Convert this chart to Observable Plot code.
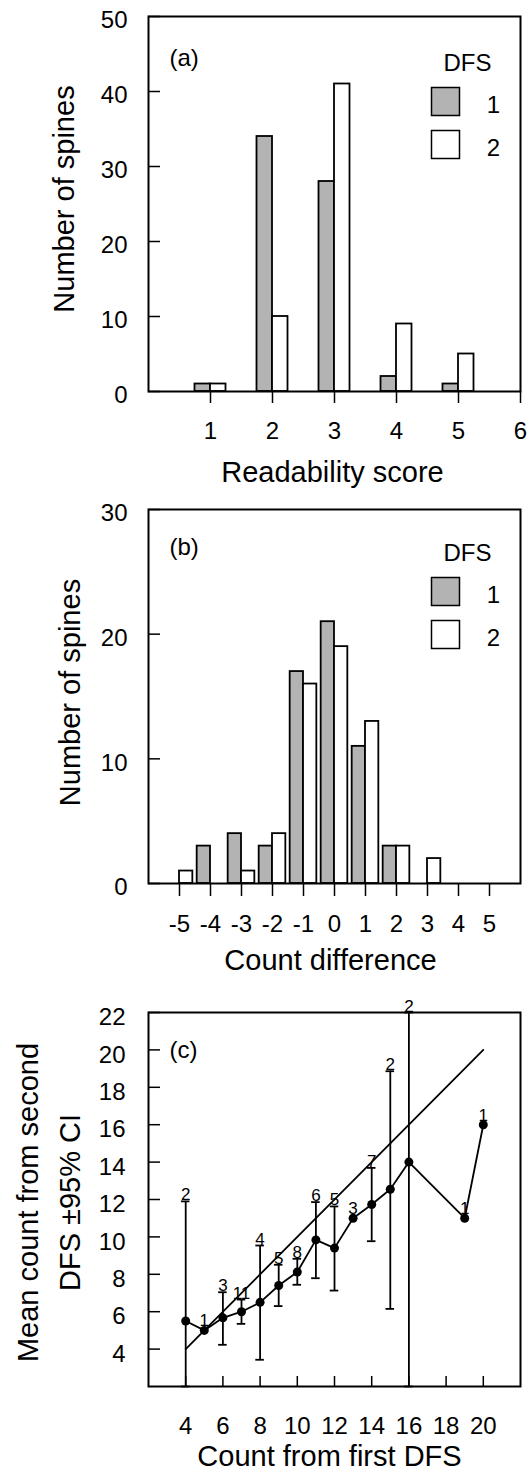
<!DOCTYPE html>
<html>
<head>
<meta charset="utf-8">
<script src="https://cdn.jsdelivr.net/npm/d3@7"></script>
<script src="https://cdn.jsdelivr.net/npm/@observablehq/plot@0.6"></script>
<style>
  html, body { margin: 0; padding: 0; background: white; }
  #chart { width: 532px; }
  #chart svg { display: block; }
</style>
</head>
<body>
<div id="chart"></div>
<script>
// ---------- data ----------
// Panel (a): readability score
const scoreCats = [1, 2, 3, 4, 5];
const scoreDFS1 = [1, 34, 28, 2, 1];
const scoreDFS2 = [1, 10, 41, 9, 5];
const scoreXTicks = [1, 2, 3, 4, 5, 6];
const scoreYTicks = [0, 10, 20, 30, 40, 50];

// Panel (b): count difference
const diffCats = [-5, -4, -3, -2, -1, 0, 1, 2, 3, 4, 5];
const diffDFS1 = [0, 3, 4, 3, 17, 21, 11, 3, 0, 0, 0];
const diffDFS2 = [1, 0, 1, 4, 16, 19, 13, 3, 2, 0, 0];
const diffXTicks = [-5, -4, -3, -2, -1, 0, 1, 2, 3, 4, 5];
const diffYTicks = [0, 10, 20, 30];

// Panel (c): count from first DFS vs mean count from second DFS
const firstCount = [4, 5, 6, 7, 8, 9, 10, 11, 12, 13, 14, 15, 16, 19, 20];
const meanSecond = [5.5, 5.0, 5.67, 6.0, 6.5, 7.4, 8.12, 9.84, 9.4, 11.0, 11.73, 12.55, 14.0, 11.0, 16.0];
const ciLow      = [2, null, 4.23, 5.35, 3.43, 6.3, 7.44, 7.79, 7.13, null, 9.77, 6.15, 2, null, null];
const ciHigh     = [11.9, null, 7.04, 6.65, 9.54, 8.51, 8.83, 11.86, 11.63, null, 13.69, 18.86, 22, null, null];
const nSpines    = [2, 1, 3, 11, 4, 5, 8, 6, 5, 3, 7, 2, 2, 1, 1];
const identityRange = [4, 20];
const cXTicks = [4, 6, 8, 10, 12, 14, 16, 18, 20];
const cYTicks = [4, 6, 8, 10, 12, 14, 16, 18, 20, 22];

const legendTitle = "DFS";
const legendKeys = ["1", "2"];

// ---------- style ----------
const W = 532;
const FONT = "'Liberation Sans', Arial, Helvetica, sans-serif";
const GRAY = "#b3b3b3";
const TICK_FS = 24, TITLE_FS = 29;
const LW = 1.8;

const style = {fontFamily: FONT, fontSize: TICK_FS + "px", color: "black", background: "white", overflow: "visible"};

function yAxes(ticks, padding, dy) {
  return [
    Plot.axisY({ticks, tickSize: -12, fill: null, strokeWidth: 1.5, label: null}),
    Plot.axisY({ticks, tickSize: 0, tickPadding: padding, dy, fontSize: TICK_FS, label: null, tickFormat: d => String(d)})
  ];
}

function legendMarks(dyTitle, dy1, dy2) {
  return [
    Plot.text([legendTitle], {frameAnchor: "top-right", textAnchor: "middle", lineAnchor: "middle", dx: -53, dy: dyTitle, fontSize: TICK_FS}),
    Plot.dot([legendKeys[0]], {x: null, y: null, frameAnchor: "top-right", dx: -75, dy: dy1, symbol: "square", r: 15.8, fill: GRAY, stroke: "black", strokeWidth: 1.5}),
    Plot.dot([legendKeys[1]], {x: null, y: null, frameAnchor: "top-right", dx: -75, dy: dy2, symbol: "square", r: 15.8, fill: "white", stroke: "black", strokeWidth: 1.5}),
    Plot.text([legendKeys[0]], {frameAnchor: "top-right", textAnchor: "middle", lineAnchor: "middle", dx: -27, dy: dy1 + 4, fontSize: TICK_FS}),
    Plot.text([legendKeys[1]], {frameAnchor: "top-right", textAnchor: "middle", lineAnchor: "middle", dx: -27, dy: dy2 + 4, fontSize: TICK_FS})
  ];
}

function barMarks(cats, v1, v2, w) {
  const d1 = cats.map((c, i) => ({c, v: v1[i]})).filter(d => d.v > 0);
  const d2 = cats.map((c, i) => ({c, v: v2[i]})).filter(d => d.v > 0);
  return [
    Plot.rect(d1, {x1: d => d.c - w, x2: d => d.c, y1: 0, y2: "v", fill: GRAY, stroke: "black", strokeWidth: LW}),
    Plot.rect(d2, {x1: d => d.c, x2: d => d.c + w, y1: 0, y2: "v", fill: "white", stroke: "black", strokeWidth: LW})
  ];
}

// ---------- panel (a) ----------
const plotA = Plot.plot({
  width: W, height: 490,
  marginTop: 16, marginBottom: 99, marginLeft: 148, marginRight: 12,
  x: {domain: [0, 6], label: null},
  y: {domain: [0, 50], label: null},
  style,
  marks: [
    ...barMarks(scoreCats, scoreDFS1, scoreDFS2, 0.25),
    Plot.frame({stroke: "black", strokeWidth: 2}),
    ...yAxes(scoreYTicks, 21, 4),
    Plot.axisX({ticks: scoreXTicks, tickSize: 12, tickPadding: 18, strokeWidth: 1.5, fontSize: TICK_FS, label: null, tickFormat: d => String(d)}),
    Plot.text(["(a)"], {frameAnchor: "top-left", textAnchor: "start", lineAnchor: "middle", dx: 21, dy: 42, fontSize: TICK_FS}),
    ...legendMarks(47, 85, 128),
    Plot.text(["Number of spines"], {frameAnchor: "left", rotate: -90, textAnchor: "middle", lineAnchor: "middle", dx: -84, dy: -5, fontSize: TITLE_FS}),
    Plot.text(["Readability score"], {frameAnchor: "bottom", textAnchor: "middle", lineAnchor: "middle", dx: -2, dy: 81, fontSize: TITLE_FS})
  ]
});

// ---------- panel (b) ----------
const plotB = Plot.plot({
  width: W, height: 495,
  marginTop: 19, marginBottom: 102, marginLeft: 148, marginRight: 12,
  x: {domain: [-6, 6], label: null},
  y: {domain: [0, 30], label: null},
  style,
  marks: [
    ...barMarks(diffCats, diffDFS1, diffDFS2, 0.43),
    Plot.frame({stroke: "black", strokeWidth: 2}),
    ...yAxes(diffYTicks, 21, 4),
    Plot.axisX({ticks: diffXTicks, tickSize: 13, tickPadding: 18, strokeWidth: 1.5, fontSize: TICK_FS, label: null, tickFormat: d => String(d)}),
    Plot.text(["(b)"], {frameAnchor: "top-left", textAnchor: "start", lineAnchor: "middle", dx: 21, dy: 38, fontSize: TICK_FS}),
    ...legendMarks(44, 82, 125),
    Plot.text(["Number of spines"], {frameAnchor: "left", rotate: -90, textAnchor: "middle", lineAnchor: "middle", dx: -78, dy: -4, fontSize: TITLE_FS}),
    Plot.text(["Count difference"], {frameAnchor: "bottom", textAnchor: "middle", lineAnchor: "middle", dx: -4, dy: 77, fontSize: TITLE_FS})
  ]
});

// ---------- panel (c) ----------
const cData = firstCount.map((x, i) => ({x, mean: meanSecond[i], lo: ciLow[i], hi: ciHigh[i], n: nSpines[i]}));
const withCI = cData.filter(d => d.hi != null);
const noCI = cData.filter(d => d.hi == null);
const CAP = 0.23;

const plotC = Plot.plot({
  width: W, height: 487,
  marginTop: 27, marginBottom: 86, marginLeft: 148, marginRight: 12,
  x: {domain: [2, 22], label: null},
  y: {domain: [2, 22], label: null},
  style,
  marks: [
    Plot.line(identityRange, {x: d => d, y: d => d, stroke: "black", strokeWidth: LW}),
    Plot.ruleX(withCI, {x: "x", y1: "lo", y2: "hi", stroke: "black", strokeWidth: LW}),
    Plot.ruleY(withCI, {y: "lo", x1: d => d.x - CAP, x2: d => d.x + CAP, stroke: "black", strokeWidth: LW}),
    Plot.ruleY(withCI, {y: "hi", x1: d => d.x - CAP, x2: d => d.x + CAP, stroke: "black", strokeWidth: LW}),
    Plot.line(cData, {x: "x", y: "mean", stroke: "black", strokeWidth: LW}),
    Plot.dot(cData, {x: "x", y: "mean", r: 4.5, fill: "black", stroke: null}),
    Plot.text(withCI, {x: "x", y: "hi", text: d => String(d.n), lineAnchor: "bottom", textAnchor: "middle", dy: -1, fontSize: 17}),
    Plot.text(noCI, {x: "x", y: "mean", text: d => String(d.n), lineAnchor: "bottom", textAnchor: "middle", dy: -4, fontSize: 17}),
    Plot.frame({stroke: "black", strokeWidth: 2}),
    ...yAxes(cYTicks, 23, 5),
    Plot.axisX({ticks: cXTicks, tickSize: -10, fill: null, strokeWidth: 1.5, label: null}),
    Plot.axisX({ticks: cXTicks, tickSize: 0, tickPadding: 30, fontSize: TICK_FS, label: null, tickFormat: d => String(d)}),
    Plot.text(["(c)"], {frameAnchor: "top-left", textAnchor: "start", lineAnchor: "middle", dx: 21, dy: 38, fontSize: TICK_FS}),
    Plot.text(["Mean count from second\nDFS \u00b195% CI"], {frameAnchor: "left", rotate: -90, textAnchor: "middle", lineAnchor: "middle", lineHeight: 1.43, dx: -103, dy: 3, fontSize: TITLE_FS}),
    Plot.text(["Count from first DFS"], {frameAnchor: "bottom", textAnchor: "middle", lineAnchor: "middle", dx: -5, dy: 70, fontSize: TITLE_FS})
  ]
});

const chart = document.getElementById("chart");
chart.append(plotA, plotB, plotC);
</script>
</body>
</html>
